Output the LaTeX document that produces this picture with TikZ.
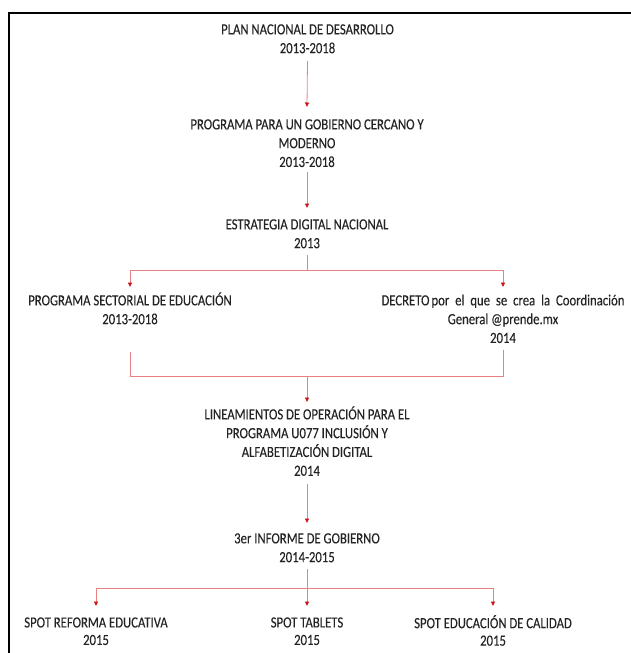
\documentclass[tikz,border=0pt]{standalone}
\usepackage{fontspec}
\setmainfont{Carlito}[FakeStretch=0.82,FakeBold=0.15]
\usetikzlibrary{arrows.meta,calc}
\definecolor{lnred}{RGB}{232,130,130}
\definecolor{tipred}{RGB}{205,20,20}
\definecolor{txt}{RGB}{35,35,35}
\begin{document}
\begin{tikzpicture}[x=1pt,y=-1pt,
  box/.style={anchor=north,align=center,inner sep=0pt,text=txt,
    font=\fontsize{15.5}{18.8}\selectfont},
  conn/.style={draw=lnred,line width=0.8pt},
  arr/.style={conn,-{Triangle[width=4pt,length=4.5pt,color=tipred]}}]
\useasboundingbox (0,0) rectangle (631,653);
\begin{scope}
\clip (0,0) rectangle (631,653);
\draw[line width=2pt] (9,13) rectangle (660,680);
\end{scope}
\node[box] (n1) at (307.5,21) {\strut PLAN NACIONAL DE DESARROLLO\\\strut 2013-2018};
\node[box] (n2) at (307,116) {\strut PROGRAMA PARA UN GOBIERNO CERCANO Y\\\strut MODERNO\\\strut 2013-2018};
\node[box] (n3) at (307,216) {\strut ESTRATEGIA DIGITAL NACIONAL\\\strut 2013};
\node[box] (L) at (130,292) {\strut PROGRAMA SECTORIAL DE EDUCACIÓN\\\strut 2013-2018};
\node[box] (R) at (503,292) {\strut\makebox[243pt][s]{DECRETO\kern2pt por el que se crea la Coordinación}\\\strut General @prende.mx\\\strut 2014};
\node[box] (lin) at (307,406) {\strut LINEAMIENTOS DE OPERACIÓN PARA EL\\\strut PROGRAMA U077 INCLUSIÓN Y\\\strut ALFABETIZACIÓN DIGITAL\\\strut 2014};
\node[box] (inf) at (307,530) {\strut 3er INFORME DE GOBIERNO\\\strut 2014-2015};
\node[box,font=\fontsize{15.5}{17.5}\selectfont] (s1) at (96,615) {\strut SPOT REFORMA EDUCATIVA\\\strut 2015};
\node[box,font=\fontsize{15.5}{17.5}\selectfont] (s2) at (307,615) {\strut SPOT TABLETS\\\strut 2015};
\node[box,font=\fontsize{15.5}{17.5}\selectfont] (s3) at (493,615) {\strut SPOT EDUCACIÓN DE CALIDAD\\\strut 2015};
% connectors
\draw[arr] ([yshift=-2pt]n1.south) -- ([yshift=9pt]n2.north);
\draw[arr] ([yshift=1pt]n2.south) -- ([yshift=8pt]n3.north);
\draw[conn] ([yshift=-1pt]n3.south) -- ++(0,-15pt) coordinate (f1);
\draw[arr] (f1) -| ([yshift=5pt]L.north);
\draw[arr] (f1) -| ([yshift=5pt]R.north);
\draw[conn] ([yshift=-22pt]L.south) |- ([yshift=-28pt]R.south) coordinate (m1);
\draw[conn] ([yshift=-1pt]R.south) -- (m1);
\draw[arr] (m1 -| lin.north) -- ([yshift=4pt]lin.north);
\draw[arr] ([yshift=-2pt]lin.south) -- ([yshift=7pt]inf.north);
\draw[conn] ([yshift=-1pt]inf.south) -- ++(0,-19pt) coordinate (f2);
\draw[arr] (f2) -| ([yshift=9pt]s1.north);
\draw[arr] (f2) -- ([yshift=9pt]s2.north);
\draw[arr] (f2) -| ([yshift=9pt]s3.north);
\end{tikzpicture}
\end{document}
